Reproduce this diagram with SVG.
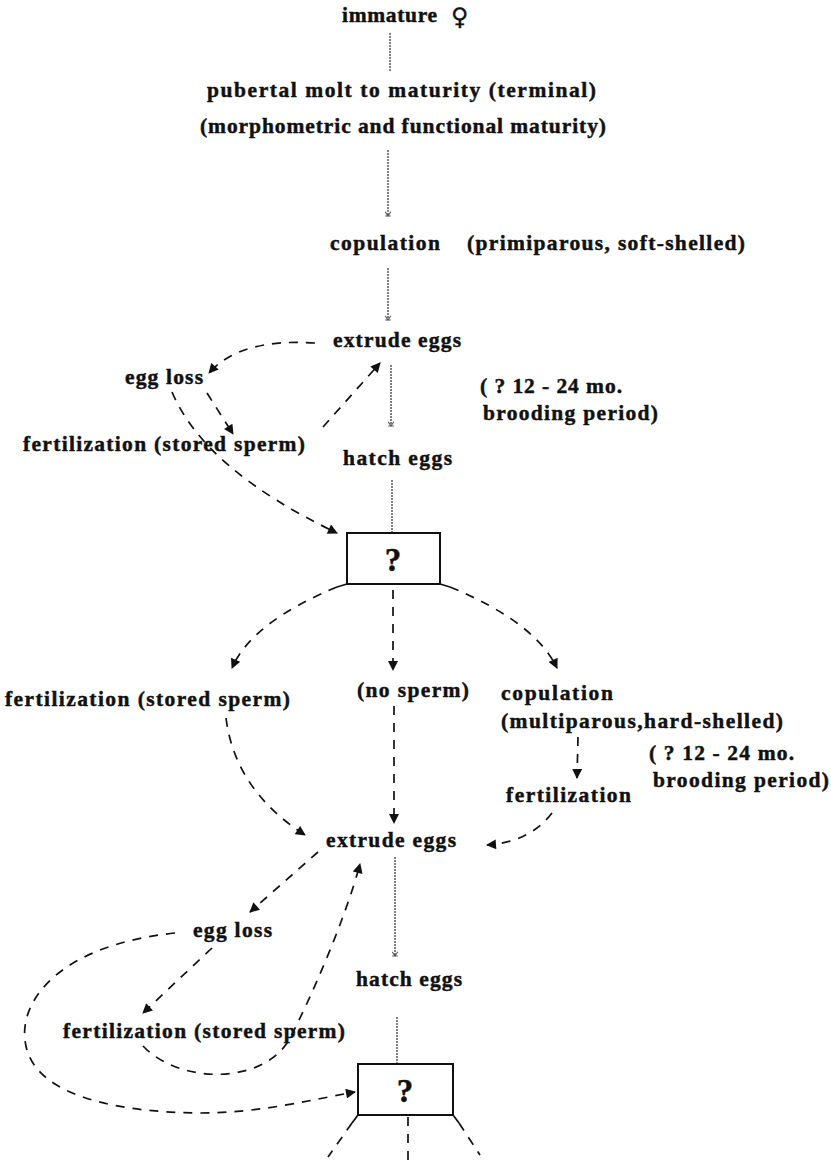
<svg xmlns="http://www.w3.org/2000/svg" width="831" height="1163" viewBox="0 0 831 1163">
<style>
  text { font-family: "Liberation Serif", "Times New Roman", serif; font-weight: bold; font-size: 21.5px; fill: #111; stroke: #111; stroke-width: 0.45; }
  .sym { font-family: "DejaVu Sans", sans-serif; font-weight: normal; font-size: 24px; stroke-width: 0.3; }
  .q { font-size: 33px; text-anchor: middle; }
  .dash { fill: none; stroke: #111; stroke-width: 1.7; stroke-dasharray: 9 8; marker-end: url(#arr); }
  .dashn { fill: none; stroke: #111; stroke-width: 1.7; stroke-dasharray: 9 8; }
  .solid { fill: none; stroke: #111; stroke-width: 1.7; }
  .gray { fill: none; stroke: #555; stroke-width: 1.5; stroke-dasharray: 2 1; }
  .grayarr { marker-end: url(#garr); }
  .box { fill: #fff; stroke: #111; stroke-width: 2; }
</style>
<defs>
  <marker id="arr" viewBox="0 0 10 10" refX="9" refY="5" markerWidth="12" markerHeight="10" orient="auto" markerUnits="userSpaceOnUse">
    <path d="M0,0 L10,5 L0,10 z" fill="#111"/>
  </marker>
  <marker id="garr" viewBox="0 0 10 10" refX="5" refY="9" markerWidth="7" markerHeight="7" orient="0" markerUnits="userSpaceOnUse">
    <path d="M1,3 L5,9 L9,3 M1,9 L9,9" fill="none" stroke="#555" stroke-width="1.5"/>
  </marker>
</defs>

<rect width="831" height="1163" fill="#fff"/>

<g id="connectors">
  <path class="gray" d="M390,33 L390,72"/>
  <path class="gray grayarr" d="M388,150 L388,216"/>
  <path class="gray grayarr" d="M388,268 L388,320"/>
  <path class="gray grayarr" d="M391,365 L391,426"/>
  <path class="gray" d="M392,480 L392,533"/>
  <path class="gray grayarr" d="M395,857 L395,956"/>
  <path class="gray" d="M397,1017 L397,1064"/>

  <path class="dash" d="M315,343 Q240,338 209,373"/>
  <path class="dash" d="M207,393 L233,434"/>
  <path class="dash" d="M323,427 L380,363"/>
  <path class="dash" d="M172,392 Q205,470 337,533"/>

  <path class="solid" d="M347,584 L337,587"/>
  <path class="solid" d="M440,584 L450,587"/>
  <path class="dash" d="M337,587 Q252,622 232,668"/>
  <path class="dash" d="M393,590 L393,670"/>
  <path class="dash" d="M450,587 Q535,622 557,668"/>

  <path class="dash" d="M226,718 Q235,790 305,835"/>
  <path class="dash" d="M394,706 L394,823"/>
  <path class="dash" d="M578,737 L577,778"/>
  <path class="dash" d="M552,813 Q530,842 487,845"/>

  <path class="dash" d="M318,852 L250,912"/>
  <path class="dash" d="M212,948 L143,1013"/>
  <path class="dash" d="M143,1046 C180,1085 265,1085 290,1038 C310,1000 345,920 360,864"/>
  <path class="dash" d="M175,933 C60,945 20,1000 25,1040 C30,1090 100,1112 200,1113 C260,1113 310,1100 355,1092"/>

  <path class="solid" d="M358,1115 L352,1123"/>
  <path class="solid" d="M453,1115 L459,1123"/>
  <path class="dashn" d="M352,1123 L328,1157"/>
  <path class="dashn" d="M408,1117 L408,1163"/>
  <path class="dashn" d="M459,1123 L480,1155"/>
</g>

<g id="n-immature"><text x="342" y="22" textLength="95" lengthAdjust="spacing">immature</text><text class="sym" x="451" y="25">♀</text></g>
<g id="n-pubertal">
  <text x="207" y="97" textLength="389" lengthAdjust="spacing">pubertal molt to maturity (terminal)</text>
  <text x="200" y="133" textLength="406" lengthAdjust="spacing">(morphometric and functional maturity)</text>
</g>
<g id="n-copulation1">
  <text x="330" y="250" textLength="110" lengthAdjust="spacing">copulation</text>
  <text x="467" y="250" textLength="278" lengthAdjust="spacing">(primiparous, soft-shelled)</text>
</g>
<g id="n-extrude1"><text x="333" y="347" textLength="128" lengthAdjust="spacing">extrude eggs</text></g>
<g id="n-eggloss1"><text x="125" y="384" textLength="78" lengthAdjust="spacing">egg loss</text></g>
<g id="n-brooding1">
  <text x="480" y="393" textLength="142" lengthAdjust="spacing">( ? 12 - 24 mo.</text>
  <text x="483" y="420" textLength="175" lengthAdjust="spacing">brooding period)</text>
</g>
<g id="n-fert1"><text x="23" y="451" textLength="282" lengthAdjust="spacing">fertilization (stored sperm)</text></g>
<g id="n-hatch1"><text x="343" y="465" textLength="109" lengthAdjust="spacing">hatch eggs</text></g>
<g id="n-box1"><rect class="box" x="347" y="533" width="93" height="51"/><text class="q" x="393" y="571">?</text></g>

<g id="n-fert2"><text x="5" y="706" textLength="285" lengthAdjust="spacing">fertilization (stored sperm)</text></g>
<g id="n-nosperm"><text x="357" y="697" textLength="112" lengthAdjust="spacing">(no sperm)</text></g>
<g id="n-copulation2">
  <text x="501" y="700" textLength="112" lengthAdjust="spacing">copulation</text>
  <text x="501" y="728" textLength="282" lengthAdjust="spacing">(multiparous,hard-shelled)</text>
</g>
<g id="n-brooding2">
  <text x="649" y="760" textLength="145" lengthAdjust="spacing">( ? 12 - 24 mo.</text>
  <text x="653" y="787" textLength="176" lengthAdjust="spacing">brooding period)</text>
</g>
<g id="n-fert3"><text x="506" y="802" textLength="125" lengthAdjust="spacing">fertilization</text></g>
<g id="n-extrude2"><text x="326" y="847" textLength="130" lengthAdjust="spacing">extrude eggs</text></g>
<g id="n-eggloss2"><text x="193" y="937" textLength="79" lengthAdjust="spacing">egg loss</text></g>
<g id="n-hatch2"><text x="356" y="986" textLength="106" lengthAdjust="spacing">hatch eggs</text></g>
<g id="n-fert4"><text x="63" y="1038" textLength="282" lengthAdjust="spacing">fertilization (stored sperm)</text></g>
<g id="n-box2"><rect class="box" x="358" y="1064" width="95" height="51"/><text class="q" x="405" y="1102">?</text></g>
</svg>
